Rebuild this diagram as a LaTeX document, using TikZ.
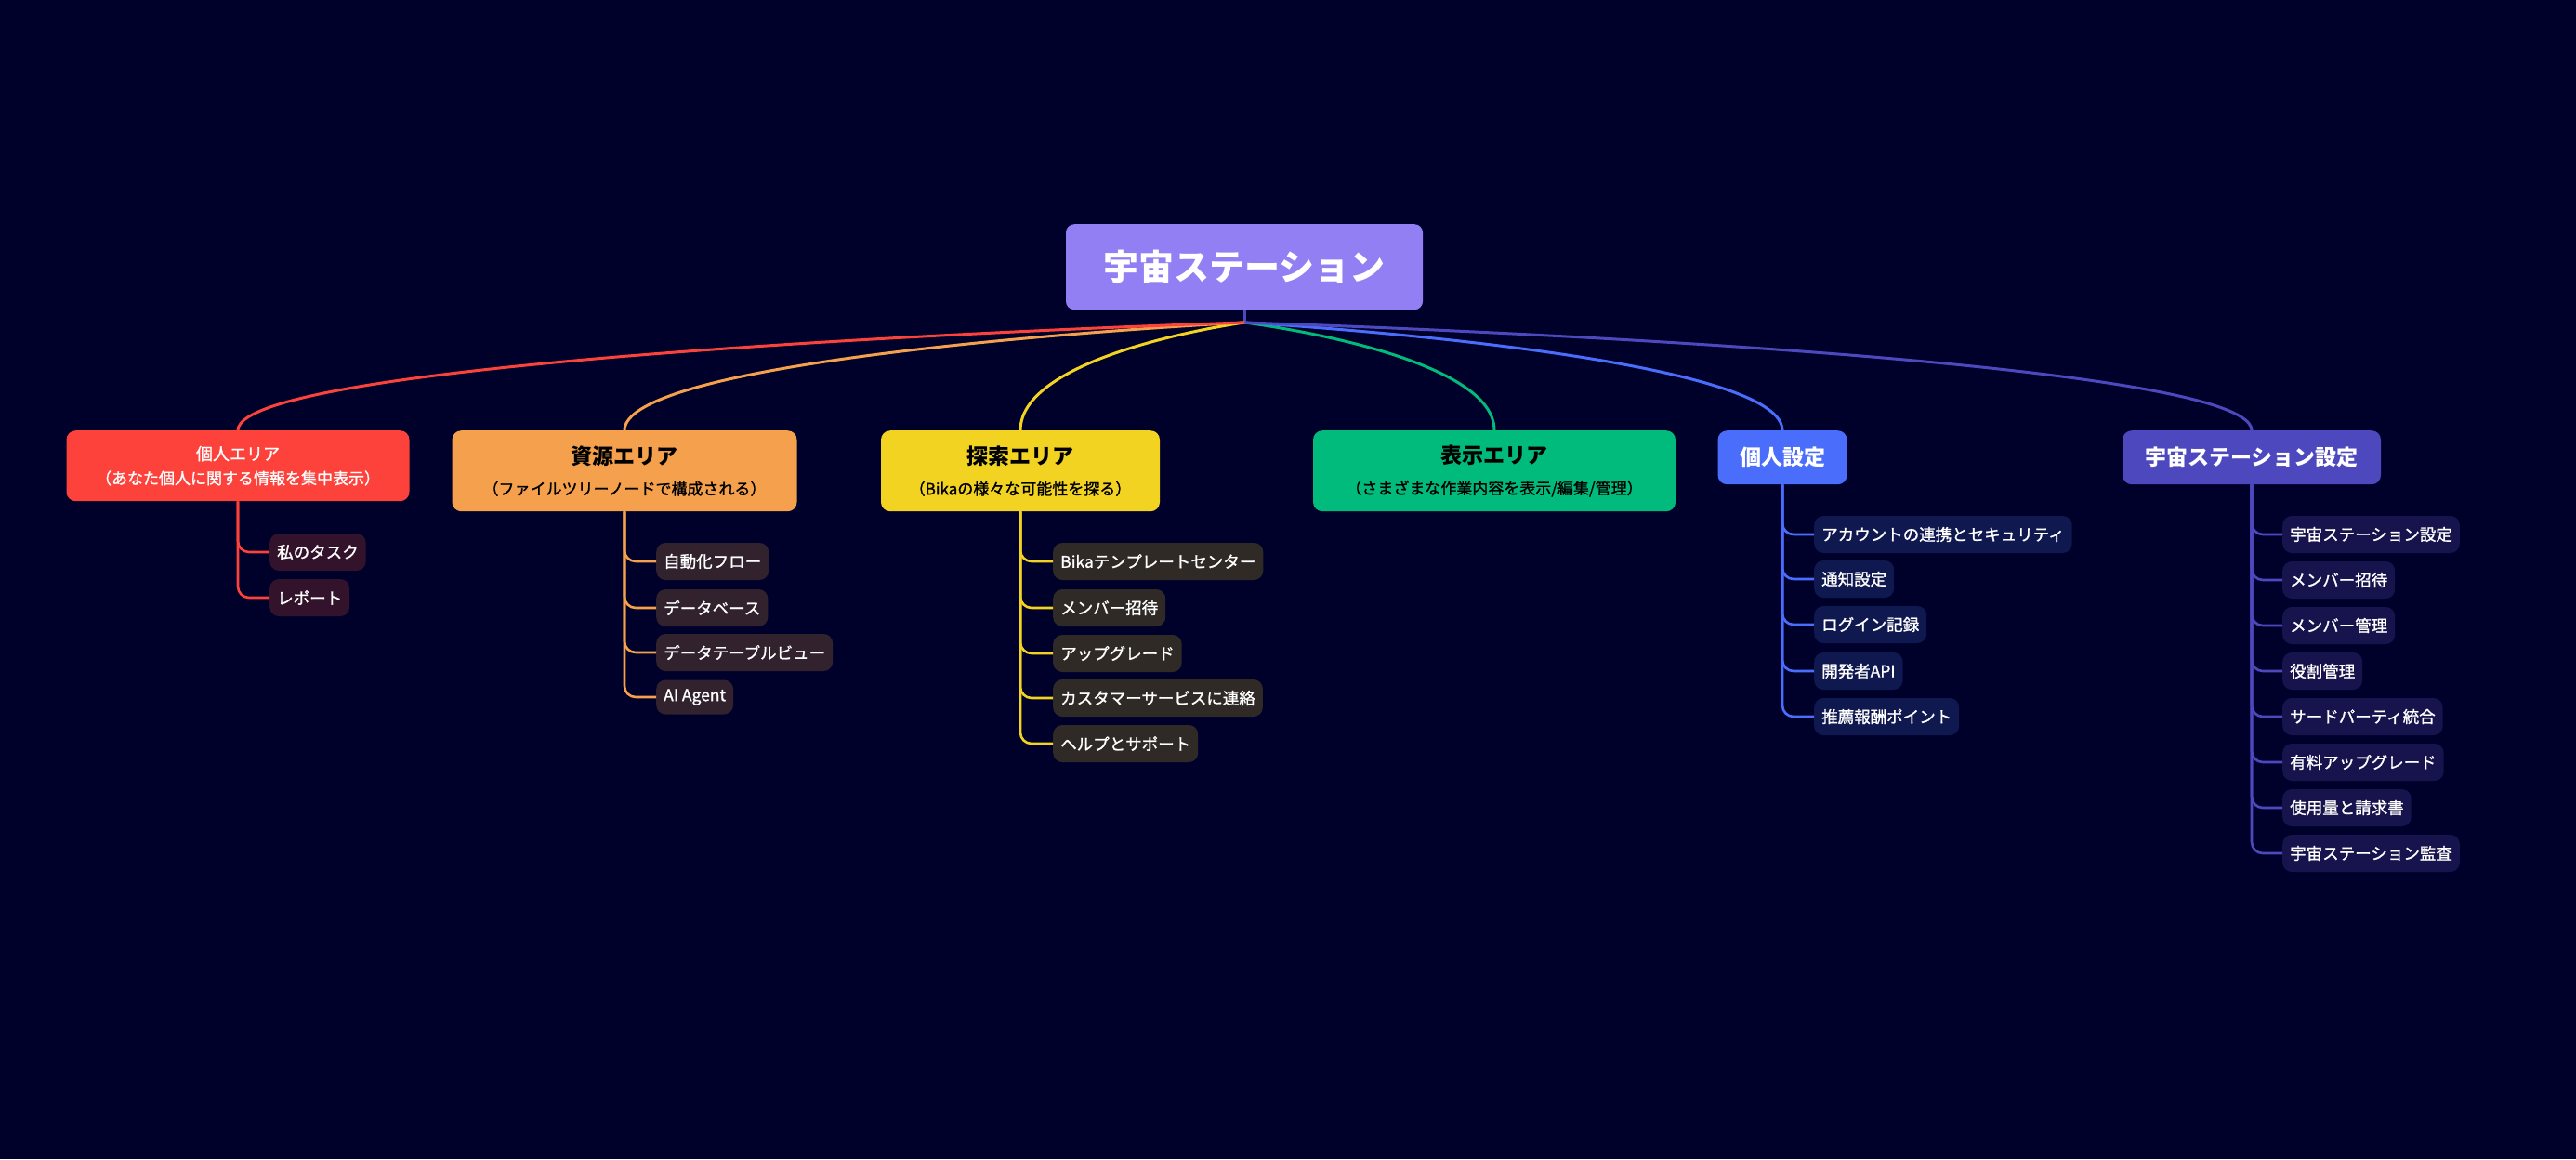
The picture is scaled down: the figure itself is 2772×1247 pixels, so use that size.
\documentclass[tikz,border=0pt]{standalone}
\usepackage{fontspec}
\setmainfont{Noto Sans CJK JP}
\newfontfamily\mediumfont[FakeBold=1.2]{Noto Sans CJK JP}
\usepackage{tikz}
\usetikzlibrary{positioning}

\definecolor{bgnavy}{HTML}{00012A}
\definecolor{rootpurple}{HTML}{917FF3}
\definecolor{redarea}{HTML}{FD423C}
\definecolor{orangearea}{HTML}{F5A04C}
\definecolor{yellowarea}{HTML}{F2D321}
\definecolor{greenarea}{HTML}{00BB7B}
\definecolor{bluearea}{HTML}{4A6DFB}
\definecolor{indigoarea}{HTML}{4E48BF}
\definecolor{redleaf}{HTML}{33132B}
\definecolor{orangeleaf}{HTML}{31222D}
\definecolor{yellowleaf}{HTML}{2F2A26}
\definecolor{blueleaf}{HTML}{101850}
\definecolor{indigoleaf}{HTML}{16134D}

\begin{document}
\begin{tikzpicture}[
	x=1pt, y=-1pt,
	rootnode/.style={rectangle, rounded corners=9pt, fill=rootpurple, text=white, anchor=north,
		minimum width=384pt, minimum height=92pt, font=\fontsize{38}{40}\selectfont\bfseries},
	areanode/.style={rectangle, rounded corners=10pt, anchor=north, align=center, inner sep=0pt,
		font=\mediumfont\fontsize{17}{33}\selectfont},
	leafnode/.style={rectangle, rounded corners=10pt, anchor=west, text=white, minimum height=40pt,
		inner xsep=8pt, inner ysep=0pt, font=\mediumfont\fontsize{17.5}{20}\selectfont},
	branch/.style={line width=3pt},
	twig/.style={line width=2.6pt, rounded corners=12pt},
	]
	\useasboundingbox (0,0) rectangle (2772,1247);
	\fill[bgnavy] (0,0) rectangle (2772,1247);

	%Nodes
	\node[rootnode]     (root)     at (1339,241)  {宇宙ステーション};
	\coordinate         (hub)      at (1339,347);

	\node[areanode, fill=redarea, text=white, minimum width=369pt, minimum height=76pt, font=\mediumfont\fontsize{17}{26}\selectfont]
	                    (personal) at (256,463)   {{\fontsize{18}{26}\selectfont 個人エリア}\\（あなた個人に関する情報を集中表示）};
	\node[areanode, fill=orangearea, minimum width=371pt, minimum height=87pt]
	                    (resource) at (672,463)   {{\normalfont\fontsize{23}{33}\selectfont\bfseries 資源エリア}\\（ファイルツリーノードで構成される）};
	\node[areanode, fill=yellowarea, minimum width=300pt, minimum height=87pt]
	                    (explore)  at (1098,463)  {{\normalfont\fontsize{23}{33}\selectfont\bfseries 探索エリア}\\（Bikaの様々な可能性を探る）};
	\node[areanode, fill=greenarea, minimum width=390pt, minimum height=87pt]
	                    (display)  at (1608,463)  {{\normalfont\fontsize{23}{33}\selectfont\bfseries 表示エリア}\\（さまざまな作業内容を表示/編集/管理）};
	\node[areanode, fill=bluearea, text=white, minimum width=139pt, minimum height=58pt, font=\fontsize{23}{28}\selectfont\bfseries]
	                    (settings) at (1918,463)  {個人設定};
	\node[areanode, fill=indigoarea, text=white, minimum width=278pt, minimum height=58pt, font=\fontsize{23}{28}\selectfont\bfseries]
	                    (station)  at (2423,463)  {宇宙ステーション設定};

	\node[leafnode, fill=redleaf]     (task)     at (290,594)   {私のタスク};
	\node[leafnode, fill=redleaf]     (report)   at (290,643)   {レポート};

	\node[leafnode, fill=orangeleaf]  (flow)     at (706,604)   {自動化フロー};
	\node[leafnode, fill=orangeleaf]  (database) at (706,654)   {データベース};
	\node[leafnode, fill=orangeleaf]  (tableview) at (706,702)  {データテーブルビュー};
	\node[leafnode, fill=orangeleaf, minimum height=37pt] (agent) at (706,750) {AI Agent};

	\node[leafnode, fill=yellowleaf]  (template) at (1133,604)  {Bikaテンプレートセンター};
	\node[leafnode, fill=yellowleaf]  (invite)   at (1133,654)  {メンバー招待};
	\node[leafnode, fill=yellowleaf]  (upgrade)  at (1133,703)  {アップグレード};
	\node[leafnode, fill=yellowleaf]  (support)  at (1133,751)  {カスタマーサービスに連絡};
	\node[leafnode, fill=yellowleaf]  (help)     at (1133,800)  {ヘルプとサポート};

	\node[leafnode, fill=blueleaf]    (account)  at (1952,575)  {アカウントの連携とセキュリティ};
	\node[leafnode, fill=blueleaf]    (notify)   at (1952,623)  {通知設定};
	\node[leafnode, fill=blueleaf]    (login)    at (1952,672)  {ログイン記録};
	\node[leafnode, fill=blueleaf]    (devapi)   at (1952,722)  {開発者API};
	\node[leafnode, fill=blueleaf]    (referral) at (1952,771)  {推薦報酬ポイント};

	\node[leafnode, fill=indigoleaf]  (stset)    at (2456,575)  {宇宙ステーション設定};
	\node[leafnode, fill=indigoleaf]  (stinvite) at (2456,624)  {メンバー招待};
	\node[leafnode, fill=indigoleaf]  (members)  at (2456,673)  {メンバー管理};
	\node[leafnode, fill=indigoleaf]  (roles)    at (2456,722)  {役割管理};
	\node[leafnode, fill=indigoleaf]  (thirdparty) at (2456,771) {サードパーティ統合};
	\node[leafnode, fill=indigoleaf]  (paid)     at (2456,820)  {有料アップグレード};
	\node[leafnode, fill=indigoleaf]  (billing)  at (2456,869)  {使用量と請求書};
	\node[leafnode, fill=indigoleaf]  (audit)    at (2456,918)  {宇宙ステーション監査};

	%Lines
	\draw[branch, indigoarea] (root.south) -- (hub);
	\draw[branch, greenarea]  (hub) .. controls (hub) and +(0,-83) .. (display.north);
	\draw[branch, bluearea]   (hub) .. controls (hub) and +(0,-83) .. (settings.north);
	\draw[branch, indigoarea] (hub) .. controls (hub) and +(0,-83) .. (station.north);
	\draw[branch, yellowarea] (hub) .. controls (hub) and +(0,-83) .. (explore.north);
	\draw[branch, orangearea] (hub) .. controls (hub) and +(0,-83) .. (resource.north);
	\draw[branch, redarea]    (hub) .. controls (hub) and +(0,-83) .. (personal.north);

	\draw[twig, redarea] (personal.south) |- (task.west);
	\draw[twig, redarea] (personal.south) |- (report.west);

	\draw[twig, orangearea] (resource.south) |- (flow.west);
	\draw[twig, orangearea] (resource.south) |- (database.west);
	\draw[twig, orangearea] (resource.south) |- (tableview.west);
	\draw[twig, orangearea] (resource.south) |- (agent.west);

	\draw[twig, yellowarea] (explore.south) |- (template.west);
	\draw[twig, yellowarea] (explore.south) |- (invite.west);
	\draw[twig, yellowarea] (explore.south) |- (upgrade.west);
	\draw[twig, yellowarea] (explore.south) |- (support.west);
	\draw[twig, yellowarea] (explore.south) |- (help.west);

	\draw[twig, bluearea] (settings.south) |- (account.west);
	\draw[twig, bluearea] (settings.south) |- (notify.west);
	\draw[twig, bluearea] (settings.south) |- (login.west);
	\draw[twig, bluearea] (settings.south) |- (devapi.west);
	\draw[twig, bluearea] (settings.south) |- (referral.west);

	\draw[twig, indigoarea] (station.south) |- (stset.west);
	\draw[twig, indigoarea] (station.south) |- (stinvite.west);
	\draw[twig, indigoarea] (station.south) |- (members.west);
	\draw[twig, indigoarea] (station.south) |- (roles.west);
	\draw[twig, indigoarea] (station.south) |- (thirdparty.west);
	\draw[twig, indigoarea] (station.south) |- (paid.west);
	\draw[twig, indigoarea] (station.south) |- (billing.west);
	\draw[twig, indigoarea] (station.south) |- (audit.west);
\end{tikzpicture}
\end{document}
